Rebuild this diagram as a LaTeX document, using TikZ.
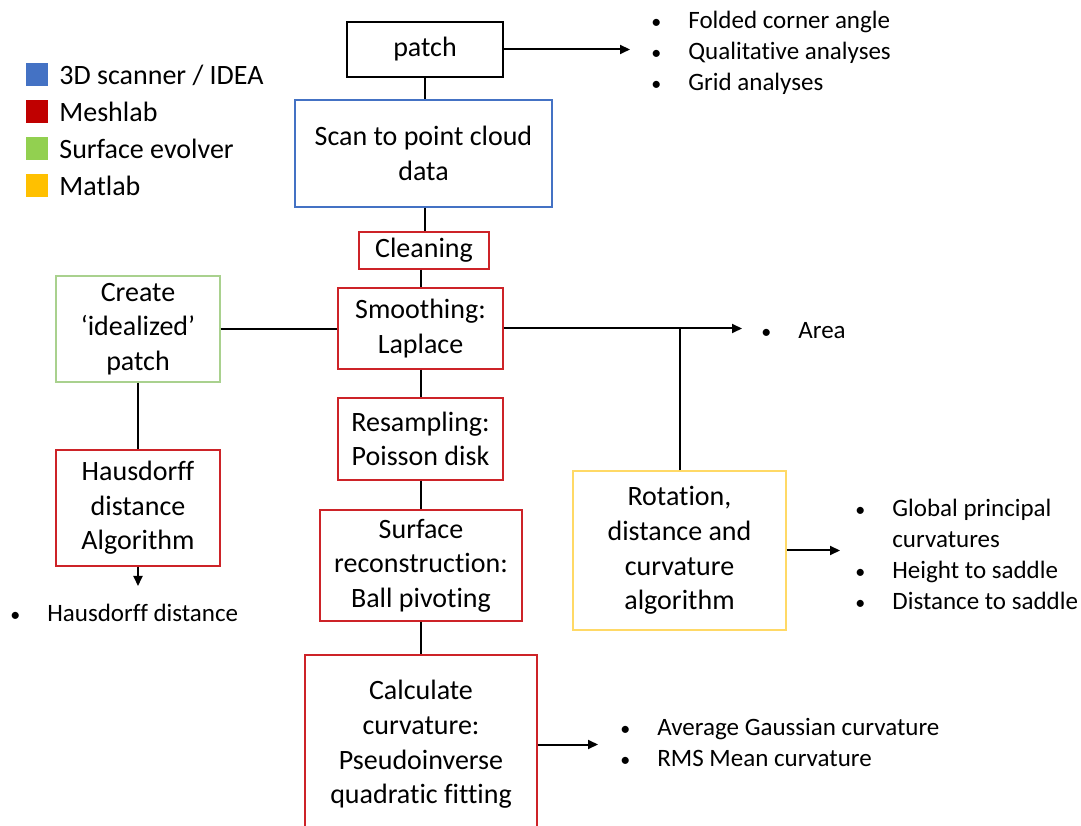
\documentclass[tikz,border=0pt]{standalone}
\usepackage{fontspec}
\setmainfont{Carlito}[Ligatures=NoCommon]
\usepackage{tikz}
\usetikzlibrary{arrows.meta, positioning}
\definecolor{scanblue}{HTML}{4472C4}
\definecolor{meshred}{HTML}{C00000}
\definecolor{evolgreen}{HTML}{92D050}
\definecolor{matyellow}{HTML}{FFC000}
\definecolor{redline}{RGB}{205,35,40}
\definecolor{greenline}{HTML}{A9D18E}
\definecolor{yellowline}{HTML}{FFD966}
\newcommand{\bul}{\makebox[32pt][c]{\fontsize{10}{10}\selectfont •}}

\begin{document}
\begin{tikzpicture}[x=0.5pt, y=0.5pt,
  box/.style={draw, line width=0.7pt, align=center, inner sep=0pt,
              font=\fontsize{14}{17.3}\selectfont},
  lbl/.style={font=\fontsize{12.5}{15.5}\selectfont, align=left, inner sep=0pt, anchor=west},
  key/.style={font=\fontsize{14}{17}\selectfont, inner sep=0pt, anchor=west},
  conn/.style={line width=1pt},
  arr/.style={conn, -{Triangle[length=5pt, width=4.5pt]}}]
\clip (0,0) rectangle (1081,825);
\fill[white] (0,0) rectangle (1081,825);
%%── Legend ───────────────────────────────────────────────
\foreach \c/\t [count=\i] in {scanblue/{3D scanner / IDEA}, meshred/Meshlab,
                              evolgreen/Surface evolver, matyellow/Matlab} {
  \fill[\c] (26,{787-37*\i-11.5}) rectangle (48,{787-37*\i+11.5});
  \node[key] (key\i) at (59,{787-37*\i}) {\t};
}
%%── Main column ──────────────────────────────────────────
\node[box, minimum width=78pt, minimum height=27.5pt] (patch) at (425,775.5) {patch};
\node[box, draw=scanblue, minimum width=128.5pt, minimum height=53.5pt] (scan) at (423.5,671.5)
  {Scan to point cloud\\data};
\node[box, draw=redline, minimum width=65pt, minimum height=18.5pt] (clean) at (424,574.5) {Cleaning};
\node[box, draw=redline, minimum width=82.5pt, minimum height=40.5pt] (smooth) at (420.5,496.5)
  {Smoothing:\\Laplace};
\node[box, draw=redline, minimum width=82.5pt, minimum height=41pt] (resamp) at (420.5,386)
  {Resampling:\\Poisson disk};
\node[box, draw=redline, minimum width=101pt, minimum height=55.5pt] (recon) at (421,259.5)
  {Surface\\reconstruction:\\Ball pivoting};
\node[box, draw=redline, minimum width=116pt, minimum height=89.5pt] (calc) at (421,80.5)
  {Calculate\\curvature:\\Pseudoinverse\\quadratic fitting};
%%── Side boxes ───────────────────────────────────────────
\node[box, draw=greenline, minimum width=82pt, minimum height=53pt] (ideal) at (138,496)
  {Create\\‘idealized’\\patch};
\node[box, draw=redline, minimum width=82pt, minimum height=58pt] (haus) at (138,317)
  {Hausdorff\\distance\\Algorithm};
\node[box, draw=yellowline, minimum width=106.5pt, minimum height=79.5pt] (rot) at (679.5,274.5)
  {Rotation,\\distance and\\curvature\\algorithm};
%%── Connectors ───────────────────────────────────────────
\draw[conn] (patch.south) -- (patch.south |- scan.north);
\draw[conn] (scan.south -| patch.south) -- (clean.north -| patch.south);
\draw[conn] (smooth.north |- clean.south) -- (smooth.north);
\draw[conn] (smooth.south) -- (smooth.south |- resamp.north);
\draw[conn] (resamp.south) -- (resamp.south |- recon.north);
\draw[conn] (recon.south) -- (recon.south |- calc.north);
\draw[conn] (ideal.east) -- (ideal.east -| smooth.west);
\draw[conn] (ideal.south) -- (haus.north);
\draw[conn] (rot.north) -- (rot.north |- smooth.east);
%% outputs
\coordinate (patchout) at (630,775.5);
\coordinate (smoothout) at (742,496.5);
\coordinate (hausout) at (138,239);
\coordinate (rotout) at (840,274.5);
\coordinate (calcout) at (598,80.5);
\draw[arr] (patch.east) -- (patchout);
\draw[arr] (smooth.east) -- (smoothout);
\draw[arr] (haus.south) -- (hausout);
\draw[arr] (rot.east) -- (rotout);
\draw[arr] (calc.east) -- (calcout);
%%── Result lists ─────────────────────────────────────────
\node[lbl] (patchres) at (624,772)
  {\bul Folded corner angle\\
   \bul Qualitative analyses\\
   \bul Grid analyses};
\node[lbl] (smoothres) at (734,494)
  {\bul Area};
\node[lbl] (hausres) at (-17,212)
  {\bul Hausdorff distance};
\node[lbl] (rotres) at (828,271)
  {\bul Global principal\\
   \hspace*{32pt}curvatures\\
   \bul Height to saddle\\
   \bul Distance to saddle};
\node[lbl] (calcres) at (593,83)
  {\bul Average Gaussian curvature\\
   \bul RMS Mean curvature};
\end{tikzpicture}
\end{document}
